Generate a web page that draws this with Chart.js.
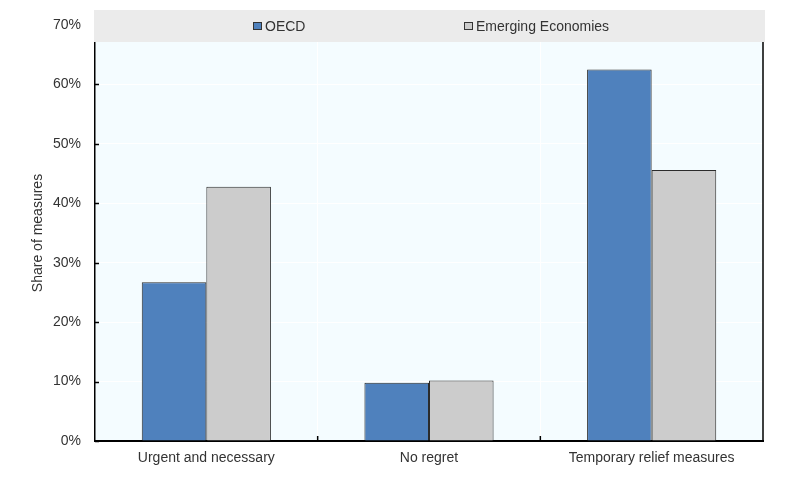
<!DOCTYPE html>
<html>
<head>
<meta charset="utf-8">
<script src="https://cdn.jsdelivr.net/npm/chart.js@4/dist/chart.umd.min.js"></script>
<style>
  html, body { margin: 0; padding: 0; background: #fff; }
  #wrap { width: 787px; height: 481px; }
</style>
</head>
<body>
<div id="wrap"><canvas id="myBarChart"></canvas></div>
<script>
const categories = ['Urgent and necessary', 'No regret', 'Temporary relief measures'];
const oecd = [26.7, 9.8, 62.5];
const emerging = [42.8, 10.2, 45.6];
const seriesNames = ['OECD', 'Emerging Economies'];

Chart.defaults.font.family = '"Liberation Sans", Arial, sans-serif';
Chart.defaults.color = '#333';

// plot background, inner tick marks, right frame, legend band
const frame = {
  id: 'frame',
  beforeDraw(chart) {
    const {ctx, chartArea: a} = chart;
    ctx.save();
    ctx.fillStyle = '#f4fcff';
    ctx.fillRect(a.left, a.top, a.right - a.left, a.bottom - a.top);
    ctx.restore();
  },
  afterDatasetsDraw(chart) {
    const {ctx, chartArea: a, scales} = chart;
    ctx.save();
    ctx.strokeStyle = '#000';
    ctx.lineWidth = 1.5;
    ctx.beginPath();
    scales.y.ticks.forEach(t => {
      const y = Math.round(scales.y.getPixelForValue(t.value)) + 0.5;
      ctx.moveTo(a.left, y);
      ctx.lineTo(a.left + 4, y);
    });
    for (let i = 1; i < categories.length; i++) {
      const x = (scales.x.getPixelForValue(i - 1) + scales.x.getPixelForValue(i)) / 2;
      ctx.moveTo(x, a.bottom);
      ctx.lineTo(x, a.bottom - 5);
    }
    ctx.moveTo(a.right, a.top);
    ctx.lineTo(a.right, a.bottom);
    ctx.stroke();
    ctx.restore();
  },
  afterDraw(chart) {
    const {ctx, chartArea: a} = chart;
    ctx.save();
    ctx.fillStyle = '#ebebeb';
    ctx.fillRect(a.left - 1, 10, a.right - a.left + 3, 32);
    ctx.font = '14px "Liberation Sans", Arial, sans-serif';
    ctx.textBaseline = 'middle';
    const starts = [253, 464];
    chart.data.datasets.forEach((ds, i) => {
      const x0 = starts[i];
      ctx.fillStyle = ds.backgroundColor;
      ctx.fillRect(x0 + 0.5, 22.5, 8, 7);
      ctx.strokeStyle = '#333';
      ctx.lineWidth = 1;
      ctx.strokeRect(x0 + 0.5, 22.5, 8, 7);
      ctx.fillStyle = '#333';
      ctx.fillText(ds.label, x0 + 12, 27);
    });
    ctx.restore();
  }
};

const ctx = document.getElementById('myBarChart').getContext('2d');
const myChart = new Chart(ctx, {
  type: 'bar',
  data: {
    labels: categories,
    datasets: [
      {
        label: seriesNames[0],
        data: oecd,
        backgroundColor: '#4f81bd',
        borderColor: '#2b2b2b',
        borderWidth: 1,
        categoryPercentage: 0.58,
        barPercentage: 1.0
      },
      {
        label: seriesNames[1],
        data: emerging,
        backgroundColor: '#cccccc',
        borderColor: '#2b2b2b',
        borderWidth: 1,
        categoryPercentage: 0.58,
        barPercentage: 1.0
      }
    ]
  },
  options: {
    responsive: true,
    maintainAspectRatio: false,
    animation: false,
    layout: { padding: { top: 25, right: 24, left: 30, bottom: 0 } },
    plugins: {
      legend: { display: false },
      tooltip: { enabled: false }
    },
    scales: {
      x: {
        grid: { color: '#ffffff', offset: true, drawTicks: false },
        border: { color: '#000', width: 2 },
        ticks: { font: { size: 14 }, color: '#333', padding: 9 },
        afterFit(scale) { scale.height = 40; }
      },
      y: {
        min: 0,
        max: 70,
        ticks: {
          stepSize: 10,
          font: { size: 14 },
          color: '#333',
          padding: 14,
          callback: v => v + '%'
        },
        grid: { color: '#ffffff', drawTicks: false },
        border: { color: '#000', width: 1.5 },
        title: { display: true, text: 'Share of measures', font: { size: 14 }, color: '#333', padding: { top: 0, bottom: 0 } },
        afterFit(scale) { scale.width = 65; }
      }
    }
  },
  plugins: [frame]
});
</script>
</body>
</html>
